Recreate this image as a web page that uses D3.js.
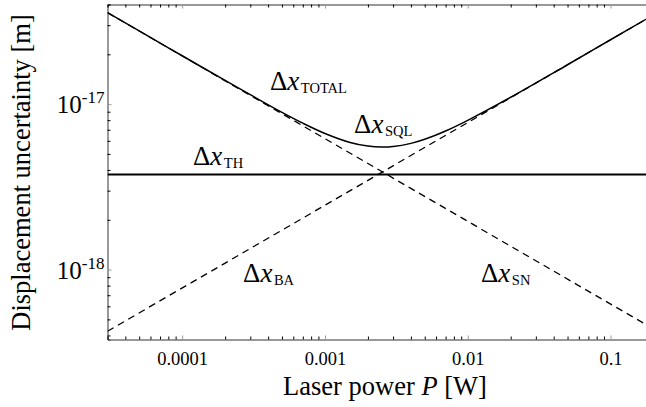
<!DOCTYPE html>
<html><head><meta charset="utf-8">
<script src="https://cdn.jsdelivr.net/npm/d3@7"></script>
<style>
html,body{margin:0;padding:0;background:#fff;}
svg{display:block;font-family:"Liberation Serif","DejaVu Serif",serif;}
</style></head>
<body><svg id="c" width="646" height="407"></svg>
<script>
// ---- data ----
const xMajorTicks = [1e-4, 1e-3, 1e-2, 1e-1];
const xTickLabels = ["0.0001", "0.001", "0.01", "0.1"];
const yMajorTicks = [1e-18, 1e-17];
const yTickExponents = ["-18", "-17"];

const snPower = [3e-5, 0.2];
const snValue = [3.57e-17, 4.38e-19];
const baPower = [3e-5, 0.2];
const baValue = [4.24e-19, 3.46e-17];
const thPower = [3e-5, 0.2];
const thValue = [3.75e-18, 3.75e-18];
const totalPower = [3e-5,5e-5,1e-4,2e-4,3e-4,5e-4,7e-4,1e-3,1.5e-3,2e-3,2.5e-3,3e-3,4e-3,5e-3,7e-3,1e-2,2e-2,5e-2,0.1,0.2];
const totalValue = [3.57e-17,2.77e-17,1.96e-17,1.39e-17,1.14e-17,8.92e-18,7.67e-18,6.65e-18,5.87e-18,5.58e-18,5.50e-18,5.54e-18,5.79e-18,6.13e-18,6.88e-18,7.98e-18,1.10e-17,1.73e-17,2.45e-17,3.46e-17];

const labelSubs = ["TOTAL", "SQL", "TH", "BA", "SN"];
const labelPower = [4.12e-4, 1.6e-3, 1.19e-4, 2.67e-4, 1.238e-2];
const labelValue = [1.22e-17, 6.7e-18, 4.29e-18, 8.4e-19, 8.4e-19];

// ---- layout ----
const L = 107.5, R = 653.5, T = 4.5, B = 339.5;
const svg = d3.select("#c");
const x = d3.scaleLog().domain([3e-5, 0.2]).range([L, R]);
const y = d3.scaleLog().domain([3.78e-19, 4e-17]).range([B, T]);

svg.append("defs").append("clipPath").attr("id","clip")
  .append("rect").attr("x",L).attr("y",T).attr("width",R-L).attr("height",B-T);

// minor ticks
const xMinor = x.ticks().filter(t => !xMajorTicks.some(m => Math.abs(m-t)/m < 1e-6));
const yMinor = y.ticks().filter(t => !yMajorTicks.some(m => Math.abs(m-t)/m < 1e-6));

function styleAxis(g, col){
  g.select(".domain").attr("stroke","#333").attr("stroke-width",1);
  g.selectAll(".tick line").attr("stroke",col).attr("stroke-width",1);
}
// bottom
svg.append("g").attr("transform",`translate(0,${B})`)
  .call(d3.axisBottom(x).tickValues(xMinor).tickSize(-3).tickFormat(""))
  .call(g=>styleAxis(g,"#000"));
const gxb = svg.append("g").attr("transform",`translate(0,${B})`)
  .call(d3.axisBottom(x).tickValues(xMajorTicks).tickSize(-4).tickPadding(12)
    .tickFormat((d,i)=>xTickLabels[i]))
  .call(g=>styleAxis(g,"#999"));
gxb.attr("font-family","Liberation Serif");
gxb.selectAll("text").attr("font-size","18.5px").attr("fill","#000")
  .attr("font-family","Liberation Serif").attr("dy","0.71em");
gxb.select(".domain").remove();
// top
svg.append("g").attr("transform",`translate(0,${T})`)
  .call(d3.axisTop(x).tickValues(xMinor).tickSize(-3).tickFormat(""))
  .call(g=>styleAxis(g,"#000"));
svg.append("g").attr("transform",`translate(0,${T})`)
  .call(d3.axisTop(x).tickValues(xMajorTicks).tickSize(-4).tickFormat(""))
  .call(g=>{styleAxis(g,"#999"); g.select(".domain").remove();});
// left
svg.append("g").attr("transform",`translate(${L},0)`)
  .call(d3.axisLeft(y).tickValues(yMinor).tickSize(-3).tickFormat(""))
  .call(g=>styleAxis(g,"#000"));
svg.append("g").attr("transform",`translate(${L},0)`)
  .call(d3.axisLeft(y).tickValues(yMajorTicks).tickSize(-4).tickFormat(""))
  .call(g=>{styleAxis(g,"#999"); g.select(".domain").remove();});
yMajorTicks.forEach((t,i)=>{
  const tx = svg.append("text").attr("x",L-3).attr("y",y(t)+9)
    .attr("text-anchor","end").attr("font-size","25px").attr("fill","#000");
  tx.append("tspan").text("10");
  tx.append("tspan").attr("dy",-10).attr("font-size","17px").text(yTickExponents[i]);
});

// ---- lines ----
const plot = svg.append("g").attr("clip-path","url(#clip)");
const line = d3.line().x(d=>x(d[0])).y(d=>y(d[1]));
const curve = d3.line().x(d=>x(d[0])).y(d=>y(d[1])).curve(d3.curveCatmullRom.alpha(0.5));

plot.append("path").datum(d3.zip(snPower, snValue)).attr("d",line)
  .attr("fill","none").attr("stroke","#000").attr("stroke-width",1.3).attr("stroke-dasharray","7,5");
plot.append("path").datum(d3.zip(baPower, baValue)).attr("d",line)
  .attr("fill","none").attr("stroke","#000").attr("stroke-width",1.3).attr("stroke-dasharray","7,5");
plot.append("path").datum(d3.zip(thPower, thValue)).attr("d",line)
  .attr("fill","none").attr("stroke","#000").attr("stroke-width",2);
plot.append("path").datum(d3.zip(totalPower, totalValue)).attr("d",curve)
  .attr("fill","none").attr("stroke","#000").attr("stroke-width",1.5);

// ---- curve labels ----
labelSubs.forEach((s,i)=>{
  const t = svg.append("text").attr("x",x(labelPower[i])).attr("y",y(labelValue[i]))
    .attr("font-size","27px").attr("fill","#000");
  t.append("tspan").text("Δ");
  t.append("tspan").attr("font-style","italic").text("x");
  t.append("tspan").attr("dx",1.5).attr("dy",3).attr("font-size","14.5px").text(s);
});

// ---- axis titles ----
const xt = svg.append("text").attr("x",385).attr("y",395)
  .attr("text-anchor","middle").attr("font-size","26.5px").attr("fill","#000");
xt.append("tspan").text("Laser power ");
xt.append("tspan").attr("font-style","italic").text("P");
xt.append("tspan").text(" [W]");

svg.append("text").attr("transform",`translate(30,${172.5}) rotate(-90)`)
  .attr("text-anchor","middle").attr("font-size","26.5px").attr("fill","#000")
  .text("Displacement uncertainty [m]");
</script></body></html>
